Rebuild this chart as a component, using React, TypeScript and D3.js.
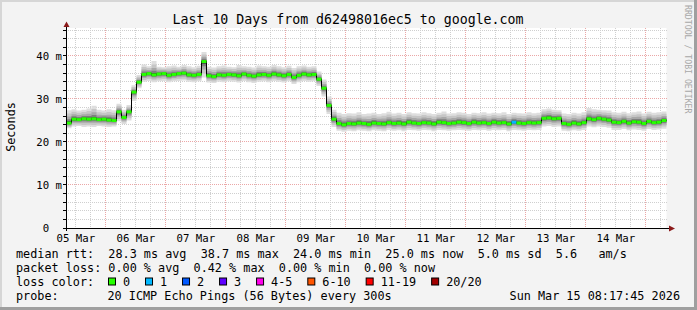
import React from 'react';
import * as d3 from 'd3';

const W = 697;
const H = 310;
const startTime = new Date(2026, 2, 5, 8, 17, 45);
const endTime = new Date(2026, 2, 15, 8, 17, 45);
const STEP_HOURS = 2;

// median rtt (ms), one value per 2-hour step
const medianMs = [
  24.4, 25.3, 25.2, 25.4, 25.3, 25.4, 25.2, 25.3, 25.1, 25.0,
  27.0, 25.7, 27.0, 31.6, 33.9, 35.7, 35.9, 35.6, 35.8, 35.9,
  35.5, 35.7, 35.9, 36.0, 35.6, 35.5, 35.7, 38.7, 35.4, 35.2,
  35.6, 35.5, 35.7, 35.6, 35.4, 35.8, 35.5, 35.3, 35.6, 35.7,
  35.5, 35.8, 35.6, 35.4, 35.7, 35.0, 35.5, 35.8, 35.6, 35.7,
  34.6, 32.5, 28.5, 25.3, 24.3, 24.0, 24.3, 24.2, 24.4, 24.3,
  24.1, 24.4, 24.3, 24.2, 24.5, 24.3, 24.4, 24.2, 24.6, 24.4,
  24.3, 24.5, 24.4, 24.2, 24.6, 24.5, 24.3, 24.4, 24.6, 24.5,
  24.3, 24.6, 24.4, 24.5, 24.3, 24.6, 24.4, 24.5, 24.2, 24.6,
  24.4, 24.3, 24.5, 24.4, 24.5, 25.5, 25.6, 25.4, 25.5, 24.3,
  24.1, 24.4, 24.2, 24.5, 25.4, 25.2, 25.5, 25.3, 25.1, 24.6,
  24.5, 24.8, 24.4, 24.7, 24.6, 24.3, 24.8, 24.5, 24.6, 25.0,
];

// highest ping of each step (ms)
const smokeMaxMs = [
  27.4, 27.6, 27.3, 27.5, 27.8, 28.4, 27.5, 27.3, 27.6, 27.4,
  28.9, 27.5, 28.6, 33.2, 35.6, 38.0, 37.6, 38.8, 37.5, 37.4,
  37.6, 37.8, 37.5, 37.9, 37.6, 37.4, 37.7, 40.9, 37.5, 37.3,
  37.6, 37.8, 37.5, 37.4, 37.9, 37.6, 37.5, 37.3, 37.8, 37.6,
  37.5, 37.9, 37.6, 37.4, 37.7, 37.2, 37.6, 37.8, 37.5, 37.6,
  36.4, 34.5, 30.6, 27.5, 26.8, 26.5, 26.7, 26.6, 26.9, 26.5,
  26.6, 26.8, 26.5, 26.7, 27.0, 26.6, 26.8, 26.5, 26.9, 26.7,
  26.6, 26.9, 26.7, 26.5, 26.8, 27.1, 26.6, 26.7, 26.9, 26.8,
  26.5, 26.8, 26.7, 26.9, 26.6, 26.8, 26.7, 26.9, 26.5, 26.8,
  26.7, 26.6, 26.9, 26.7, 26.8, 27.6, 27.8, 27.5, 27.4, 26.6,
  26.5, 26.8, 26.6, 26.9, 27.9, 27.6, 27.5, 27.4, 27.3, 26.9,
  26.8, 27.0, 26.7, 26.9, 27.1, 26.6, 27.0, 26.8, 26.9, 27.1,
];

// lowest ping of each step (ms)
const smokeMinMs = [
  23.2, 23.6, 23.7, 23.5, 23.6, 23.5, 23.7, 23.6, 23.5, 23.6,
  24.8, 24.2, 25.0, 29.5, 32.5, 34.0, 34.2, 33.9, 34.1, 34.2,
  33.9, 34.1, 34.2, 34.3, 34.0, 33.9, 34.1, 35.0, 33.8, 33.7,
  34.0, 33.9, 34.1, 34.0, 33.8, 34.2, 33.9, 33.7, 34.0, 34.1,
  33.9, 34.2, 34.0, 33.8, 34.1, 33.5, 33.9, 34.2, 34.0, 34.1,
  33.0, 30.6, 26.5, 23.5, 22.6, 22.4, 22.6, 22.5, 22.7, 22.6,
  22.5, 22.7, 22.6, 22.5, 22.8, 22.6, 22.7, 22.5, 22.8, 22.7,
  22.6, 22.8, 22.7, 22.5, 22.8, 22.7, 22.6, 22.7, 22.8, 22.7,
  22.6, 22.8, 22.7, 22.8, 22.6, 22.8, 22.7, 22.8, 22.5, 22.8,
  22.7, 22.6, 22.8, 22.7, 22.8, 23.6, 23.7, 23.5, 23.6, 22.6,
  22.5, 22.7, 22.6, 22.8, 23.6, 23.4, 23.6, 23.5, 23.3, 22.8,
  22.8, 23.0, 22.7, 22.9, 22.8, 22.6, 23.0, 22.8, 22.9, 23.1,
];

// steps with lost pings
const lossIndex = [89];
const lossCount = [1];

const yTickValues = [0, 10, 20, 30, 40];
const yTickLabels = ['0  ', '10 m', '20 m', '30 m', '40 m'];

const titleText = 'Last 10 Days from d62498016ec5 to google.com';
const yAxisTitle = 'Seconds';
const watermark = 'RRDTOOL / TOBI OETIKER';
const rttLine = 'median rtt:  28.3 ms avg  38.7 ms max  24.0 ms min  25.0 ms now  5.0 ms sd  5.6   am/s';
const lossLine = 'packet loss: 0.00 % avg  0.42 % max  0.00 % min  0.00 % now';
const lossColorLabel = 'loss color:';
const lossLabels = ['0', '1', '2', '3', '4-5', '6-10', '11-19', '20/20'];
const lossColors = ['#26ff00', '#00b8ff', '#0059ff', '#5e00ff', '#ff00ea', '#ff5500', '#ff0000', '#a10000'];
const probeLabel = 'probe:';
const probeText = '20 ICMP Echo Pings (56 Bytes) every 300s';
const dateText = 'Sun Mar 15 08:17:45 2026';

const FONT = "'DejaVu Sans Mono', monospace";
const CHAR_W = 7.115;
const nb = (s: string) => s.replace(/ /g, '\u00A0');

export default function App() {
  const x = d3.scaleTime().domain([startTime, endTime]).range([66.5, 666.5]);
  const y = d3.scaleLinear().domain([0, 46.5]).range([228, 28]);

  const times = medianMs.map((_, i) => d3.timeHour.offset(startTime, i * STEP_HOURS));
  const pts = medianMs.map((m, i) => ({ t: times[i], m, hi: smokeMaxMs[i], lo: smokeMinMs[i] }));
  const ptsExt = [...pts, { ...pts[pts.length - 1], t: endTime }];

  const fracs = [1.0, 0.75, 0.5, 0.3, 0.14];
  const greys = ['#dedede', '#c6c6c6', '#a8a8a8', '#7e7e7e', '#3a3a3a'];
  const bands = fracs.map((f) =>
    d3
      .area<any>()
      .curve(d3.curveStepAfter)
      .x((d) => x(d.t))
      .y0((d) => y(d.m - (d.m - d.lo) * f))
      .y1((d) => y(d.m + (d.hi - d.m) * f))(ptsExt) as string
  );
  const medLine = d3
    .line<any>()
    .curve(d3.curveStepAfter)
    .x((d) => x(d.t))
    .y((d) => y(d.m))(ptsExt) as string;

  const minorY = d3.range(2, 47, 2).filter((v) => v % 10 !== 0);
  const majorY = d3.range(10, 47, 10);
  const hours6 = d3.timeHour.every(6)!.range(startTime, endTime);
  const minorX = hours6.filter((d) => d.getHours() !== 0);
  const majorX = hours6.filter((d) => d.getHours() === 0);
  const labelDays = d3
    .timeDay.range(d3.timeDay.floor(startTime), endTime)
    .map((d) => d3.timeHour.offset(d, 12))
    .filter((d) => d > startTime && d < endTime);
  const fmtDay = d3.timeFormat('%d %b');

  const crisp = (v: number) => Math.round(v - 0.5) + 0.5;

  let bx = 108.5;
  const boxes = lossLabels.map((lab, i) => {
    const item = { x: bx, lab, color: lossColors[i] };
    bx += 29.9 + lab.length * CHAR_W;
    return item;
  });

  return (
    <svg
      width={W}
      height={H}
      style={{ position: 'absolute', left: 0, top: 0, fontFamily: FONT }}
    >
      <rect x={0} y={0} width={W} height={H} fill="#f3f3f3" />
      <rect x={0} y={0} width={W} height={2} fill="#d6d6d6" />
      <rect x={0} y={0} width={2} height={H} fill="#d6d6d6" />
      <rect x={0} y={H - 3} width={W} height={3} fill="#9f9f9f" />
      <rect x={W - 3} y={0} width={3} height={H} fill="#9f9f9f" />

      <rect x={66.5} y={28} width={600} height={200} fill="#ffffff" />

      <g shapeRendering="crispEdges" strokeDasharray="1,1">
        {minorY.map((v) => (
          <line key={'my' + v} x1={66} x2={667} y1={crisp(y(v))} y2={crisp(y(v))} stroke="#cfcfcf" />
        ))}
        {minorX.map((d, i) => (
          <line key={'mx' + i} x1={crisp(x(d))} x2={crisp(x(d))} y1={28} y2={228} stroke="#cfcfcf" />
        ))}
        {majorY.map((v) => (
          <line key={'My' + v} x1={66} x2={667} y1={crisp(y(v))} y2={crisp(y(v))} stroke="#eba7a7" />
        ))}
        {majorX.map((d, i) => (
          <line key={'Mx' + i} x1={crisp(x(d))} x2={crisp(x(d))} y1={28} y2={228} stroke="#eba7a7" />
        ))}
      </g>

      {bands.map((p, i) => (
        <path key={'b' + i} d={p} fill={greys[i]} stroke="none" />
      ))}
      <path d={medLine} fill="none" stroke="#000" strokeWidth={1} />
      {pts.map((d, i) => {
        const li = lossIndex.indexOf(i);
        const col = li >= 0 ? lossColors[lossCount[li]] : lossColors[0];
        const x2 = i < pts.length - 1 ? x(pts[i + 1].t) : x(endTime);
        return (
          <line key={'m' + i} x1={x(d.t)} x2={x2} y1={y(d.m)} y2={y(d.m)} stroke={col} strokeWidth={3} />
        );
      })}

      <g shapeRendering="crispEdges">
        {[...minorY, ...majorY].map((v) => (
          <line key={'t' + v} x1={63} x2={66} y1={crisp(y(v))} y2={crisp(y(v))} stroke="#000" />
        ))}
        <line x1={66.5} x2={66.5} y1={25} y2={231} stroke="#000" />
        <line x1={63} x2={670} y1={228.5} y2={228.5} stroke="#000" />
      </g>
      <path d="M63.5,27 L66.5,21.5 L69.5,27 Z" fill="#8b1a1a" />
      <path d="M669,225.5 L675,228.5 L669,231.5 Z" fill="#8b1a1a" />

      <g fontSize={10.7} fill="#000">
        {yTickValues.map((v, i) => (
          <text key={'yl' + v} x={62} y={y(v)} dy="0.35em" textAnchor="end">
            {nb(yTickLabels[i])}
          </text>
        ))}
        {labelDays.map((d, i) => (
          <text key={'xl' + i} x={x(d)} y={241.5} textAnchor="middle">
            {fmtDay(d)}
          </text>
        ))}
      </g>

      <text x={348} y={24} fontSize={13.25} textAnchor="middle" fill="#000">
        {titleText}
      </text>
      <text transform="translate(14.5,127) rotate(-90)" fontSize={11.8} textAnchor="middle" fill="#000">
        {yAxisTitle}
      </text>
      <text transform="translate(685,5) rotate(90)" fontSize={8.2} fill="#a8a8a8">
        {watermark}
      </text>

      <g fontSize={11.8} fill="#000">
        <text x={16} y={257.5}>{nb(rttLine)}</text>
        <text x={16} y={271.5}>{nb(lossLine)}</text>
        <text x={16} y={285.5}>{nb(lossColorLabel)}</text>
        {boxes.map((b, i) => (
          <g key={'lb' + i}>
            <rect x={b.x} y={278} width={7} height={7} fill={b.color} stroke="#000" strokeWidth={1} />
            <text x={b.x + 14.5} y={285.5}>{b.lab}</text>
          </g>
        ))}
        <text x={16} y={299.5}>{nb(probeLabel)}</text>
        <text x={107.5} y={299.5}>{nb(probeText)}</text>
        <text x={680} y={299.5} textAnchor="end">{nb(dateText)}</text>
      </g>
    </svg>
  );
}
